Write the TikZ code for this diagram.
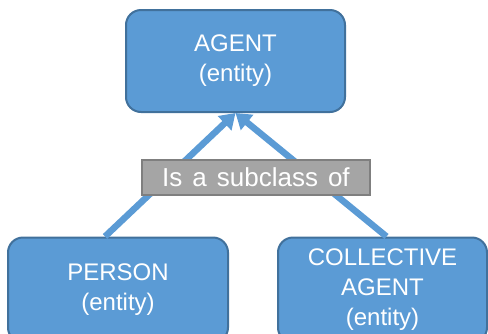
\documentclass[tikz,border=0pt]{standalone}
\usepackage{fontspec}
\setmainfont{Liberation Sans}
\usepackage{xcolor}
\usetikzlibrary{shapes,arrows.meta}
\definecolor{boxblue}{HTML}{5B9BD5}
\definecolor{boxedge}{HTML}{41719C}
\definecolor{tagfill}{HTML}{A5A5A5}
\definecolor{tagedge}{HTML}{7F7F7F}

\begin{document}
\begin{tikzpicture}[x=1pt,y=-1pt]
  \useasboundingbox (0,0) rectangle (488,333);
  \tikzstyle{classbox}=[rectangle,rounded corners=15pt,draw=boxedge,line width=2pt,fill=boxblue,text=white,align=center,font=\fontsize{24}{30}\selectfont,inner sep=0pt]
  \tikzstyle{sublink}=[draw=boxblue,line width=6.5pt,-{Triangle[length=15pt,width=19pt]}]
  \tikzstyle{sublabel}=[rectangle,draw=tagedge,line width=2pt,fill=tagfill,text=white,font=\fontsize{26}{30}\selectfont,minimum width=228pt,minimum height=35pt,inner sep=0pt]
    \node[classbox,minimum width=219pt,minimum height=102pt] (agent) at (235.5,61) {AGENT\\(entity)};
    \node[classbox,minimum width=220pt,minimum height=105pt] (person) at (118,290) {PERSON\\(entity)};
    \node[classbox,minimum width=209pt,minimum height=105pt] (collective) at (382.5,290) {COLLECTIVE\\AGENT\\(entity)};
    \draw[sublink] ([xshift=-13pt]person.north) -- (agent.south);
    \draw[sublink] ([xshift=4pt]collective.north) -- (agent.south);
    \node[sublabel] (subof) at (256,177.5) {\spaceskip=10pt plus 1pt\relax Is a subclass of};
\end{tikzpicture}
\end{document}
